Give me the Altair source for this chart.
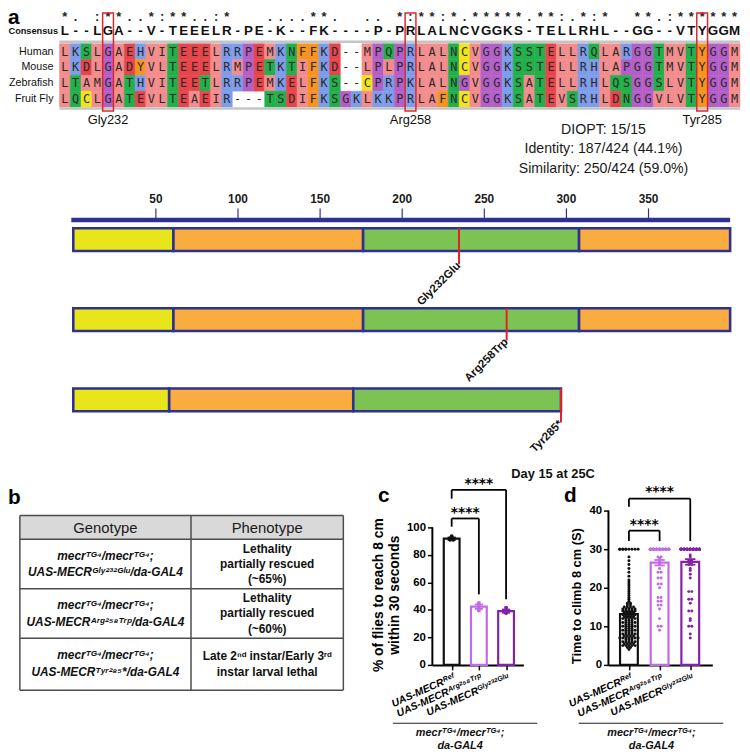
import json
import altair as alt
import pandas as pd

# =========================== DATA ===========================
# ---- panel a: alignment ----
species = ["Human", "Mouse", "Zebrafish", "Fruit Fly"]
sequences = [
    "LKSLGAEHVITEEELRRPEMKNFFKD--MPQPRLALNCVGGKSSTELLRQLARGGTMVTYGGM",
    "LKDLGADYVLTEEELRMPETKTIFKD--LPLPRLALNCVGGKSSTELLRHLAPGGTMVTYGGM",
    "LTAMGATHVITEETLRRPEMKELFKS--CPRPKLALNGVGGKSATELLRHLQSGGSLVTYGGM",
    "LQCLGATEVLTEAEIR---TSDIFKSGKLKKPRLAFNCVGGKSATEVSRHLDNGGVLVTYGGM",
]
consensus = "L--LGA--V-TEEELR-PE-K--FK----P-PRLALNCVGGKS-TELLRHL--GG--VTYGGM"
conservation = "*. :**..*:**..:*   ....**.  .. *:**:*.*****.**:.*:*  **.:******"
site_columns = [5, 33, 60]
site_names = ["Gly232", "Arg258", "Tyr285"]
stats_lines = ["DIOPT: 15/15", "Identity: 187/424 (44.1%)", "Similarity: 250/424 (59.0%)"]

# ---- panel a: domain diagrams ----
variant_names = ["Gly232Glu", "Arg258Trp", "Tyr285*"]
variant_marker = [234.9, 263.9, 297.0]
segment_variant = [0, 0, 0, 0, 1, 1, 1, 1, 2, 2, 2]
segment_start = [0, 61, 176.5, 308, 0, 61, 176.5, 308, 0, 58.4, 170.5]
segment_end = [61, 176.5, 308, 400, 61, 176.5, 308, 400, 58.4, 170.5, 297.0]
segment_kind = ["A", "B", "C", "B", "A", "B", "C", "B", "A", "B", "C"]
ruler_ticks = [50, 100, 150, 200, 250, 300, 350]
protein_length = 400
condition_label = "Day 15 at 25C"

# ---- panel b ----
table_header = ["Genotype", "Phenotype"]
table_genotype = [
    "mecrᵀᴳ⁴/mecrᵀᴳ⁴;\nUAS-MECRᴳˡʸ²³²ᴳˡᵘ/da-GAL4",
    "mecrᵀᴳ⁴/mecrᵀᴳ⁴;\nUAS-MECRᴬʳᵍ²⁵⁸ᵀʳᵖ/da-GAL4",
    "mecrᵀᴳ⁴/mecrᵀᴳ⁴;\nUAS-MECRᵀʸʳ²⁸⁵*/da-GAL4",
]
table_phenotype = [
    "Lethality\npartially rescued\n(~65%)",
    "Lethality\npartially rescued\n(~60%)",
    "Late 2ⁿᵈ instar/Early 3ʳᵈ\ninstar larval lethal",
]

# ---- panels c, d ----
bar_groups = ["UAS-MECRᴿᵉᶠ", "UAS-MECRᴬʳᵍ²⁵⁸ᵀʳᵖ", "UAS-MECRᴳˡʸ²³²ᴳˡᵘ"]
bar_colors = ["#111111", "#c46ae6", "#8421aa"]
pct_reach = [[93.5, 91.0, 91.0], [45.0, 42.5, 39.5], [41.5, 38.0, 37.8]]
time_ref = [
    30, 30, 30, 30, 30, 30, 30, 30, 30, 30,
    28, 27, 26, 25, 24, 23, 22, 21.5, 21, 20.5, 20, 19.5, 19, 18.5, 18, 17.5, 17, 16.5, 16, 16,
    15.5, 15.5, 15, 15, 15, 15, 14.5, 14.5, 14.5, 14.5, 14.5, 14, 14, 14, 14, 14,
    13.5, 13.5, 13.5, 13.5, 13, 13, 13, 13, 13, 12.5, 12.5, 12.5, 12.5, 12, 12, 12, 12, 12,
    11.5, 11.5, 11.5, 11, 11, 11, 11, 11, 10.5, 10.5, 10.5, 10, 10, 10, 10, 10,
    9.5, 9.5, 9.5, 9, 9, 9, 9, 9, 8.5, 8.5, 8.5, 8, 8, 8, 8, 8,
    7.5, 7.5, 7.5, 7.5, 7, 7, 7, 7, 7, 7, 7, 6.5, 6.5, 6.5, 6, 6, 6, 6, 6,
    5.5, 5.5, 5.5, 5.5, 5, 5, 5, 5, 5, 4.5, 4.5, 4,
]
time_arg = [
    30, 30, 30, 30, 30, 30, 30, 30, 30, 30,
    30, 30, 30, 30, 30, 30, 30, 30, 30, 30,
    30, 30, 30, 30, 30, 30, 30, 30, 30, 30,
    30, 30, 30, 30, 30, 30, 30, 30, 30, 30,
    30, 30, 30, 30, 30, 30, 30,
    28, 28, 27.5, 27, 26.5, 26, 25, 24, 24, 22.5, 22.5, 21, 21, 20,
    17.5, 17.5, 16.5, 16.5, 15.5, 15.5, 14.5, 12, 10, 10, 9,
]
time_gly = [
    30, 30, 30, 30, 30, 30, 30, 30, 30, 30,
    30, 30, 30, 30, 30, 30, 30, 30, 30, 30,
    30, 30, 30, 30, 30, 30, 30, 30, 30, 30,
    30, 30, 30, 30, 30, 30, 30, 30, 30, 30,
    30, 30, 30, 30, 30, 30, 30, 30, 30, 30,
    30, 30, 30, 30, 30,
    28.5, 28, 27, 27, 26, 26, 25, 24.5, 23.5, 22.5, 19, 19,
    17, 17, 16, 14, 14, 12, 11.5, 10, 10, 8, 7,
]
genotype_caption = "mecrᵀᴳ⁴/mecrᵀᴳ⁴;\nda-GAL4"
sig_label = "****"
c_title = ["% of flies to reach 8 cm", "within 30 seconds"]
d_title = "Time to climb 8 cm (S)"

# =========================== STYLE ===========================
FONT = "Liberation Sans"
MONO = "DejaVu Sans Mono"
NAVY = "#2e3192"
RED = "#e3202a"
class_domain = ["hyd", "aro", "pos", "neg", "phil", "pg", "cys"]
class_range = ["#f38d8d", "#f7941f", "#7d9cea", "#e8454b", "#22b04b", "#b45fc8", "#f3e31b"]
RES_CLASS = {"-": "gap"}
for group, letters in [("hyd", "AILMV"), ("aro", "FWY"), ("pos", "KRH"), ("neg", "DE"),
                       ("phil", "STNQ"), ("pg", "PG"), ("cys", "C")]:
    for aa in letters:
        RES_CLASS[aa] = group
seg_domain = ["A", "B", "C"]
seg_range = ["#e8e51a", "#f9ad40", "#7dc353"]

# =========================== LAYOUT (page pixels) ===========================
PAGE_W = 750
A_H = 216          # alignment block: page y 0..216
R_H = 296          # domain block: page y 216..512
BOTTOM_TOP = 512
EDGE = 8           # page pixels left/top of this are outside the drawing surface


def a_col(px):
    return (px - 60.0) / 10.92 + 0.5


def a_row(py):
    return (py - 48.0) / 16.0


def r_res(px):
    return (px - 74.0) / 1.66


def r_trk(py):
    return (py - 238.0) / 81.0


# ---------------------------------------------------------------------------
# Chart 1: alignment
xs1 = alt.Scale(domain=[a_col(0), a_col(PAGE_W)], nice=False, zero=False)
ys1 = alt.Scale(domain=[a_row(0), a_row(A_H)], reverse=True, nice=False, zero=False)


def X1(f):
    return alt.X(f, type="quantitative", scale=xs1, axis=None)


def Y1(f):
    return alt.Y(f, type="quantitative", scale=ys1, axis=None)


cell_rows = []
for r, seq in enumerate(sequences):
    for c, aa in enumerate(seq, start=1):
        cell_rows.append({"row": r, "col": c, "aa": aa, "cls": RES_CLASS[aa]})
cells = pd.DataFrame(cell_rows)
cells["x0"] = cells["col"] - 0.5
cells["x1"] = cells["col"] + 0.5
cells["y0"] = cells["row"] - 0.5
cells["y1"] = cells["row"] + 0.5
cls_scale = alt.Scale(domain=class_domain, range=class_range)

cell_rect = alt.Chart(cells[cells["cls"] != "gap"]).mark_rect(strokeWidth=0.5).encode(
    x=X1("x0"), x2="x1:Q", y=Y1("y0"), y2="y1:Q",
    color=alt.Color("cls:N", scale=cls_scale, legend=None),
    stroke=alt.Stroke("cls:N", scale=cls_scale, legend=None),
)
cell_text = alt.Chart(cells).mark_text(font=MONO, fontSize=12, color="#2a2a2a").encode(
    x=X1("col"), y=Y1("row"), text="aa:N")

sep = pd.DataFrame({"x0": [0.5, 0.5], "x1": [63.5, 63.5], "y": [a_row(38), a_row(105.5)]})
sep_rule = alt.Chart(sep).mark_rule(color="#c4c4c4", strokeWidth=2.5).encode(
    x=X1("x0"), x2="x1:Q", y=Y1("y"))

cons_df = pd.DataFrame({"col": list(range(1, len(consensus) + 1)), "ch": list(consensus)})
cons_df["y"] = a_row(27)
cons_text = alt.Chart(cons_df).mark_text(font=FONT, fontSize=13.5, fontWeight="bold", color="#111").encode(
    x=X1("col"), y=Y1("y"), text="ch:N")

sym_df = pd.DataFrame({"col": list(range(1, len(conservation) + 1)), "ch": list(conservation)})
sym_df = sym_df[sym_df["ch"] != " "].copy()
sym_df["y"] = a_row(13)
sym_text = alt.Chart(sym_df).mark_text(font=FONT, fontSize=13, fontWeight="bold", color="#222").encode(
    x=X1("col"), y=Y1("y"), text="ch:N")

lab_df = pd.DataFrame({"name": species, "y": list(range(len(species)))})
lab_df["x"] = a_col(54)
lab_text = alt.Chart(lab_df).mark_text(font=FONT, fontSize=10.8, align="right", color="#111").encode(
    x=X1("x"), y=Y1("y"), text="name:N")
cons_lab = alt.Chart(pd.DataFrame({"name": ["Consensus"], "x": [a_col(EDGE + 0.5)], "y": [a_row(27)]})).mark_text(
    font=FONT, fontSize=9.3, fontWeight="bold", align="left", color="#111").encode(
    x=X1("x"), y=Y1("y"), text="name:N")

box_df = pd.DataFrame({"col": site_columns, "name": site_names})
box_df["x0"] = box_df["col"] - 0.5
box_df["x1"] = box_df["col"] + 0.5
box_df["y0"] = a_row(EDGE + 1)
box_df["y1"] = a_row(108)
box_df["ly"] = a_row(117)
boxes = alt.Chart(box_df).mark_rect(fillOpacity=0, stroke="#e0262b", strokeWidth=1.5).encode(
    x=X1("x0"), x2="x1:Q", y=Y1("y0"), y2="y1:Q")
box_lab = alt.Chart(box_df).mark_text(font=FONT, fontSize=13, color="#111").encode(
    x=X1("col"), y=Y1("ly"), text="name:N")

stats_df = pd.DataFrame({"t": stats_lines, "y": [a_row(127), a_row(147), a_row(167)]})
stats_df["x"] = a_col(610)
stats_text = alt.Chart(stats_df).mark_text(font=FONT, fontSize=14.3, color="#1a1a1a").encode(
    x=X1("x"), y=Y1("y"), text="t:N")

a_letter = alt.Chart(pd.DataFrame({"t": ["a"]})).mark_text(
    font=FONT, fontSize=21, fontWeight="bold", align="left", baseline="alphabetic", color="#000").encode(
    x=alt.value(EDGE), y=alt.value(20), text="t:N")

chart_a = alt.layer(cell_rect, sep_rule, cell_text, cons_text, sym_text, lab_text, cons_lab,
                    boxes, box_lab, stats_text, a_letter).properties(width=PAGE_W, height=A_H)

# ---------------------------------------------------------------------------
# Chart 2: domain diagrams
xs2 = alt.Scale(domain=[r_res(0), r_res(PAGE_W)], nice=False, zero=False)
ys2 = alt.Scale(domain=[r_trk(216), r_trk(216 + R_H)], reverse=True, nice=False, zero=False)
ax2 = alt.Axis(orient="top", values=ruler_ticks, domain=False, grid=False, tickColor=NAVY,
               tickWidth=1.2, tickSize=10, labelFont=FONT, labelFontWeight="bold", labelFontSize=12,
               labelColor="#1a1a1a", labelPadding=2, title=None, labelFlush=False)


def X2(f):
    return alt.X(f, type="quantitative", scale=xs2, axis=ax2)


def Y2(f):
    return alt.Y(f, type="quantitative", scale=ys2, axis=None)


HALF = 11.5 / 81.0
ruler = alt.Chart(pd.DataFrame({"x0": [r_res(72)], "x1": [protein_length],
                                "y0": [r_trk(216)], "y1": [r_trk(220.5)]})).mark_rect(color=NAVY).encode(
    x=X2("x0"), x2="x1:Q", y=Y2("y0"), y2="y1:Q")

seg_df = pd.DataFrame({"v": segment_variant, "s": segment_start, "e": segment_end, "k": segment_kind})
seg_df["y0"] = seg_df["v"] - HALF
seg_df["y1"] = seg_df["v"] + HALF
segs = alt.Chart(seg_df).mark_rect(stroke=NAVY, strokeWidth=2.6).encode(
    x=X2("s"), x2="e:Q", y=Y2("y0"), y2="y1:Q",
    color=alt.Color("k:N", scale=alt.Scale(domain=seg_domain, range=seg_range), legend=None))

mut_df = pd.DataFrame({"name": variant_names, "x": variant_marker, "v": [0, 1, 2]})
mut_df["y0"] = mut_df["v"] - HALF
mut_df["y1"] = [r_trk(263), r_trk(340), r_trk(423)]
mut_rule = alt.Chart(mut_df).mark_rule(color=RED, strokeWidth=2).encode(
    x=X2("x"), y=Y2("y0"), y2="y1:Q")
mut_text = alt.Chart(mut_df).mark_text(font=FONT, fontSize=11.5, fontWeight="bold", angle=315,
                                       align="right", baseline="middle", color="#111").encode(
    x=X2("x"), y=Y2("y1"), text="name:N")

cond = alt.Chart(pd.DataFrame({"t": [condition_label], "x": [r_res(559)], "y": [r_trk(475)]})).mark_text(
    font=FONT, fontSize=13, fontWeight="bold", color="#111").encode(x=X2("x"), y=Y2("y"), text="t:N")

chart_dom = alt.layer(ruler, segs, mut_rule, mut_text, cond).properties(width=PAGE_W, height=R_H)

# ---------------------------------------------------------------------------
# Chart 3: table (panel b)
C_LEFT = 437
D_LEFT = 615
C_W = 92
D_W = 105
GAP = D_LEFT - C_LEFT - C_W
T_W = C_LEFT - GAP
T_H = 182
T_ROW_PX = 50.0


def t_u(px):
    return (px - 20.0) / 327.0


def t_v(py):
    return (py - 541.0) / T_ROW_PX


xs3 = alt.Scale(domain=[t_u(0), t_u(T_W)], nice=False, zero=False)
ys3 = alt.Scale(domain=[t_v(BOTTOM_TOP), t_v(BOTTOM_TOP + T_H)], reverse=True, nice=False, zero=False)


def X3(f):
    return alt.X(f, type="quantitative", scale=xs3, axis=None)


def Y3(f):
    return alt.Y(f, type="quantitative", scale=ys3, axis=None)


def first_line(center_py, text, line_px):
    n = text.count("\n") + 1
    return t_v(center_py - (n - 1) * line_px / 2.0)


head_bg = alt.Chart(pd.DataFrame({"x0": [0], "x1": [1], "y0": [t_v(517)], "y1": [t_v(541)]})).mark_rect(
    color="#d9d9d9").encode(x=X3("x0"), x2="x1:Q", y=Y3("y0"), y2="y1:Q")
hl = pd.DataFrame({"y": [t_v(517), t_v(541), t_v(591), t_v(641), t_v(693.5)]})
hl["x0"] = 0
hl["x1"] = 1
hlines = alt.Chart(hl).mark_rule(color="#4d4d4d", strokeWidth=1.5).encode(x=X3("x0"), x2="x1:Q", y=Y3("y"))
vl = pd.DataFrame({"x": [0, t_u(193), 1]})
vl["y0"] = t_v(517)
vl["y1"] = t_v(693.5)
vlines = alt.Chart(vl).mark_rule(color="#4d4d4d", strokeWidth=1.5).encode(x=X3("x"), y=Y3("y0"), y2="y1:Q")
head_df = pd.DataFrame({"t": table_header, "x": [t_u(106.5), t_u(270)], "y": [t_v(529.5)] * 2})
head_text = alt.Chart(head_df).mark_text(font=FONT, fontSize=15, color="#1a1a1a").encode(
    x=X3("x"), y=Y3("y"), text="t:N")
row_center_px = [566, 616, 667]
GENO_LH = 17
PHEN_LH = 15.5
geno_df = pd.DataFrame({"t": table_genotype,
                        "y": [first_line(c, t, GENO_LH) for c, t in zip(row_center_px, table_genotype)]})
geno_df["x"] = t_u(106.5)
geno_text = alt.Chart(geno_df).mark_text(font=FONT, fontSize=12, fontWeight="bold", fontStyle="italic",
                                         lineBreak="\n", lineHeight=GENO_LH, baseline="middle",
                                         color="#111").encode(x=X3("x"), y=Y3("y"), text="t:N")
phen_df = pd.DataFrame({"t": table_phenotype,
                        "y": [first_line(c, t, PHEN_LH) for c, t in zip(row_center_px, table_phenotype)]})
phen_df["x"] = t_u(270)
phen_text = alt.Chart(phen_df).mark_text(font=FONT, fontSize=12, fontWeight="bold",
                                         lineBreak="\n", lineHeight=PHEN_LH, baseline="middle",
                                         color="#111").encode(x=X3("x"), y=Y3("y"), text="t:N")
b_letter = alt.Chart(pd.DataFrame({"t": ["b"]})).mark_text(
    font=FONT, fontSize=21, fontWeight="bold", align="left", baseline="alphabetic", color="#000").encode(
    x=alt.value(EDGE), y=alt.value(505 - BOTTOM_TOP), text="t:N")
chart_b = alt.layer(head_bg, hlines, vlines, head_text, geno_text, phen_text, b_letter).properties(
    width=T_W, height=T_H)


# ---------------------------------------------------------------------------
# Charts 4, 5: bar panels
def bar_panel(values, left, width, idx0_px, step_px, y_max, y_ticks, title, title_size, title_y,
              brackets, pt_size, swarm_step, cap_half, letter, letter_x, under, caption_x):
    rows = []
    for i, (g, vals) in enumerate(zip(bar_groups, values)):
        for v in vals:
            rows.append({"group": g, "idx": i, "value": v})
    df = pd.DataFrame(rows)
    height = 668 - BOTTOM_TOP
    xs = alt.Scale(domain=[(left - idx0_px) / step_px, (left + width - idx0_px) / step_px],
                   nice=False, zero=False)
    ys = alt.Scale(domain=[0, y_max], nice=False, zero=False)
    cs = alt.Scale(domain=bar_groups, range=bar_colors)
    label_expr = json.dumps(bar_groups, ensure_ascii=False) + "[datum.value]"
    x_axis = alt.Axis(values=[0, 1, 2], labelExpr=label_expr, labelAngle=-24, labelAlign="right",
                      labelBaseline="top", labelFont=FONT, labelFontStyle="italic", labelFontWeight="bold",
                      labelFontSize=10.5, labelColor="#000", labelPadding=2, labelOverlap=False,
                      labelBound=False, labelFlush=False, domainColor="#000", domainWidth=2,
                      tickColor="#000", tickWidth=1.5, tickSize=5, grid=False, title=None)
    y_axis = alt.Axis(values=y_ticks, domain=False, grid=False, tickColor="#000", tickWidth=1.5,
                      tickSize=5, labelFont=FONT, labelFontWeight="bold", labelFontSize=11.5,
                      labelColor="#000", labelPadding=2, title=title, titleFont=FONT,
                      titleFontSize=title_size, titleFontWeight="bold", titleColor="#000",
                      titleLineHeight=16, titlePadding=5, titleY=title_y)

    def X(f):
        return alt.X(f, type="quantitative", scale=xs, axis=x_axis)

    def Y(f):
        return alt.Y(f, type="quantitative", scale=ys, axis=y_axis)

    col = alt.Color("group:N", scale=cs, legend=None)
    base = alt.Chart(df)
    stats = base.transform_aggregate(
        mean="mean(value)", sem="stderr(value)", groupby=["group", "idx"]
    ).transform_calculate(
        xa="datum.idx - 0.29", xb="datum.idx + 0.29", lo="datum.mean - datum.sem",
        hi="datum.mean + datum.sem", zero0="0",
        ca=f"datum.idx - {cap_half}", cb=f"datum.idx + {cap_half}")
    axis_line = alt.Chart(pd.DataFrame({"x": [xs.domain[0]], "y0": [0], "y1": [y_ticks[-1]]})).mark_rule(
        color="#000", strokeWidth=2).encode(x=X("x"), y=Y("y0"), y2="y1:Q")
    bars = stats.mark_rect(fill="white", strokeWidth=2.2).encode(
        x=X("xa"), x2="xb:Q", y=Y("mean"), y2="zero0:Q",
        stroke=alt.Stroke("group:N", scale=cs, legend=None))
    pts = base.transform_window(
        rn="row_number()", groupby=["group", "value"]
    ).transform_joinaggregate(
        n="count()", groupby=["group", "value"]
    ).transform_calculate(
        k="min(datum.n, 7)", slot="(datum.rn - 1) % 7",
        xp=f"datum.idx + (datum.slot - (datum.k - 1) / 2) * {swarm_step}"
    ).mark_circle(size=pt_size, opacity=1).encode(x=X("xp"), y=Y("value"), color=col)
    err = stats.mark_rule(strokeWidth=1.8).encode(x=X("idx"), y=Y("lo"), y2="hi:Q", color=col)
    cap_hi = stats.mark_rule(strokeWidth=1.8).encode(x=X("ca"), x2="cb:Q", y=Y("hi"), color=col)
    cap_lo = stats.mark_rule(strokeWidth=1.8).encode(x=X("ca"), x2="cb:Q", y=Y("lo"), color=col)
    br = pd.DataFrame(brackets)
    br["mid"] = (br["a"] + br["b"]) / 2
    br["t"] = sig_label
    br_h = alt.Chart(br).mark_rule(color="#000", strokeWidth=1.8).encode(x=X("a"), x2="b:Q", y=Y("top"))
    br_l = alt.Chart(br).mark_rule(color="#000", strokeWidth=1.8).encode(x=X("a"), y=Y("left_end"), y2="top:Q")
    br_r = alt.Chart(br).mark_rule(color="#000", strokeWidth=1.8).encode(x=X("b"), y=Y("right_end"), y2="top:Q")
    br_t = alt.Chart(br).mark_text(font="DejaVu Sans", fontSize=14, fontWeight="bold", color="#000",
                                   baseline="middle").encode(x=X("mid"), y=Y("label_y"), text="t:N")
    one = pd.DataFrame({"t": [letter]})
    let = alt.Chart(one).mark_text(font=FONT, fontSize=21, fontWeight="bold", align="left",
                                   baseline="alphabetic", color="#000").encode(
        x=alt.value(letter_x - left), y=alt.value(503 - BOTTOM_TOP), text="t:N")
    und = alt.Chart(one).mark_rule(color="#222", strokeWidth=1.2).encode(
        x=alt.value(under[0] - left), x2=alt.value(under[1] - left), y=alt.value(727 - BOTTOM_TOP))
    cap = alt.Chart(pd.DataFrame({"t": [genotype_caption]})).mark_text(
        font=FONT, fontSize=11, fontWeight="bold", fontStyle="italic", lineBreak="\n", lineHeight=13,
        baseline="top", color="#111").encode(
        x=alt.value(caption_x - left), y=alt.value(731 - BOTTOM_TOP), text="t:N")
    return alt.layer(axis_line, bars, pts, err, cap_hi, cap_lo, br_h, br_l, br_r, br_t, let, und, cap).properties(
        width=width, height=height)


brackets_c = [
    {"a": 0, "b": 1, "top": 106.5, "left_end": 100.5, "right_end": 51.3, "label_y": 110.1},
    {"a": 0, "b": 2, "top": 127.3, "left_end": 120.9, "right_end": 47.7, "label_y": 131.7},
]
brackets_d = [
    {"a": 0, "b": 1, "top": 34.8, "left_end": 32.1, "right_end": 32.1, "label_y": 36.2},
    {"a": 0, "b": 2, "top": 43.1, "left_end": 41.0, "right_end": 32.1, "label_y": 44.7},
]

chart_c = bar_panel(pct_reach, C_LEFT, C_W, 456.5, 27.5, (668 - BOTTOM_TOP) / 1.39,
                    [0, 20, 40, 60, 80, 100], c_title, 14, 85, brackets_c, 16, 0.12, 0.15,
                    "c", 382, (397, 543), 465)
chart_d = bar_panel([time_ref, time_arg, time_gly], D_LEFT, D_W, 635.7, 31.0, 40,
                    [0, 10, 20, 30, 40], d_title, 13, 86, brackets_d, 9, 0.1, 0.17,
                    "d", 570, (585, 731), 658.5)

bottom = alt.hconcat(chart_b, chart_c, chart_d, spacing=GAP, bounds="flush").resolve_scale(
    color="independent", stroke="independent")

chart = alt.vconcat(chart_a, chart_dom, bottom, spacing=0, bounds="flush").resolve_scale(
    color="independent", stroke="independent"
).properties(
    padding={"left": -8, "top": -8, "right": 0, "bottom": 0}
).configure(font=FONT).configure_view(stroke=None)

chart.save("out.html", embed_options={"renderer": "svg", "actions": False})
